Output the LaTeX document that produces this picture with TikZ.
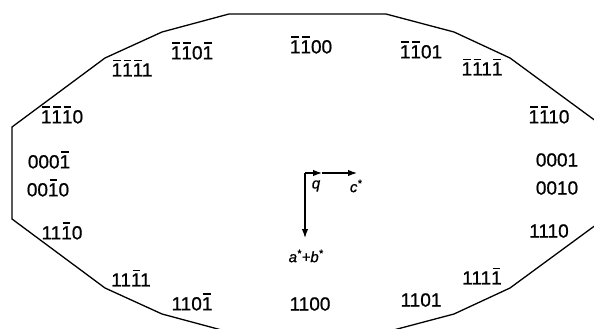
\documentclass[tikz,border=0pt]{standalone}
\usepackage{fontspec}
\setmainfont{Liberation Sans}[FakeBold=0.8]
\usetikzlibrary{arrows.meta}
\newcommand\nb{\makebox[0pt][l]{\hspace{0.08em}\raisebox{0.82em}{\rule{0.4em}{0.07em}}}1}
\tikzset{
  lab/.style={font=\fontsize{19}{21}\selectfont, inner sep=0pt, anchor=center},
  vec/.style={font=\fontsize{15}{17}\selectfont\itshape, inner sep=0pt},
  arr/.style={line width=1.2pt, -{Latex[length=9pt,width=6.5pt]}}
}
\begin{document}
\begin{tikzpicture}[x=1pt,y=-1pt]
\useasboundingbox (0,0) rectangle (594,329);
\clip (0,0) rectangle (594,329);
\draw[line width=1.3pt, line join=round] (12,127) -- (105,58) -- (162,32) -- (229,14) -- (386,14) -- (454,32) -- (510,58) -- (604,127)
  -- (604,219) -- (510,288) -- (454,314) -- (386,332) -- (229,332) -- (162,314) -- (105,288) -- (12,219) -- cycle;
% labels
\node[lab] (t)   at (311,45) {\nb\nb00};
\node[lab] (tl)  at (192,51) {\nb\nb0\nb};
\node[lab] (tr)  at (421,50) {\nb\nb01};
\node[lab] (tll) at (132,68) {\nb\nb\nb1};
\node[lab] (trr) at (482,67) {\nb\nb1\nb};
\node[lab] (l1)  at (62,115) {\nb\nb\nb0};
\node[lab] (r1)  at (549,115) {\nb\nb10};
\node[lab] (l2)  at (49,160) {000\nb};
\node[lab] (r2)  at (557,160) {0001};
\node[lab] (l3)  at (48,188) {00\nb0};
\node[lab] (r3)  at (557,188) {0010};
\node[lab] (l4)  at (62,231) {11\nb0};
\node[lab] (r4)  at (549,231) {1110};
\node[lab] (bll) at (131,278) {11\nb1};
\node[lab] (brr) at (482,276) {111\nb};
\node[lab] (bl)  at (192,302) {110\nb};
\node[lab] (br)  at (421,300) {1101};
\node[lab] (b)   at (310,304) {1100};
% vectors
\coordinate (o) at (305,173);
\coordinate (m) at (322,173);
\coordinate (ce) at (357,173);
\coordinate (de) at (305,238);
\draw[arr] (o) -- (m);
\draw[arr] (m) -- (ce);
\draw[arr] (o) -- (de);
\node[vec] (q) at (316,186) {q};
\node[vec] (c) at (356,186) {c\textsuperscript{*}};
\node[vec] (ab) at (306,256) {a\textsuperscript{*}+b\textsuperscript{*}};
\end{tikzpicture}
\end{document}
